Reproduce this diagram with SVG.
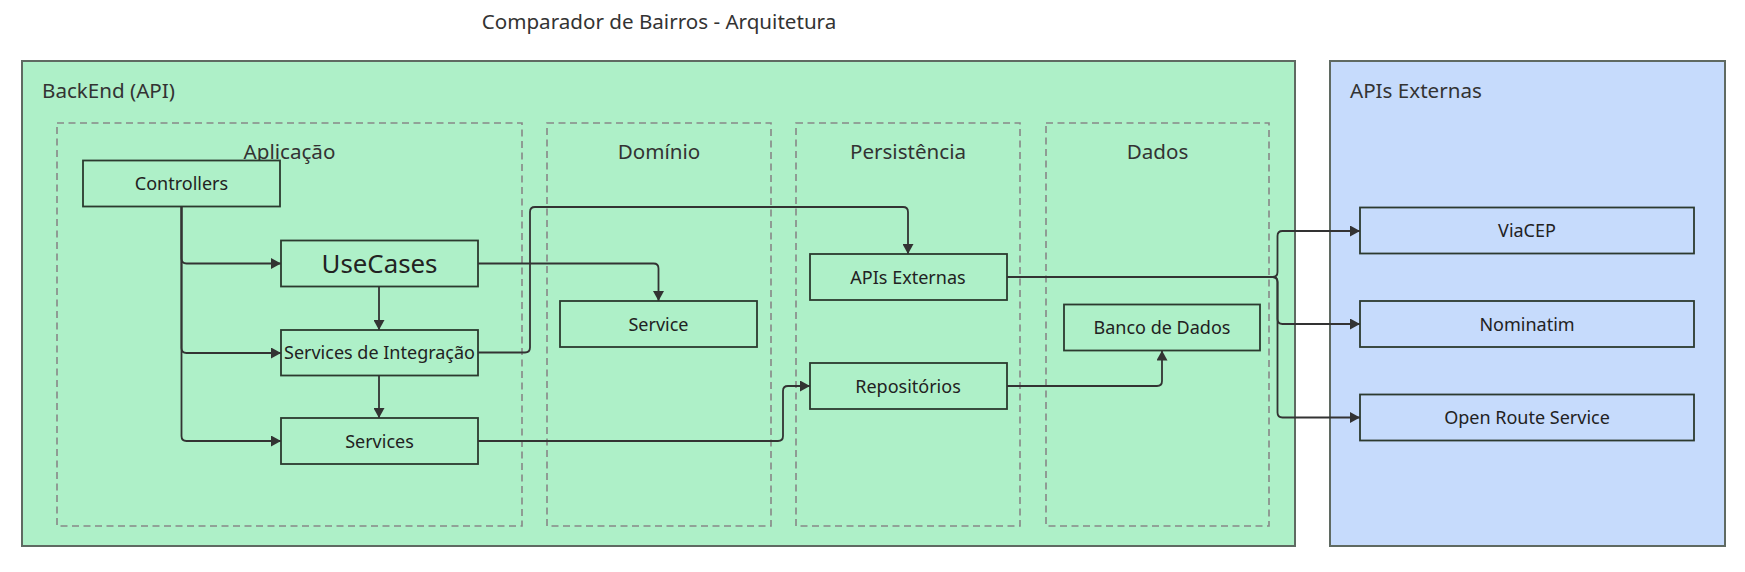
<svg xmlns="http://www.w3.org/2000/svg" width="1745" height="572" viewBox="0 0 1745 572">
<style>
text{font-family:"Noto Sans","Open Sans","Liberation Sans",sans-serif;}
.title{font-size:20.6px;fill:#333;text-anchor:middle;}
.grp{font-size:20.6px;fill:#333;}
.sub{font-size:20.6px;fill:#333;text-anchor:middle;}
.outer{stroke:#5f6a62;stroke-width:2;}
.green{fill:#aef0c8;}
.blue{fill:#c6dbfc;}
.dash{fill:none;stroke:#888;stroke-width:1.6;stroke-dasharray:7 4.5;}
.node rect{stroke:#2c3a2f;stroke-width:1.8;}
.node text{font-size:18px;fill:#222;text-anchor:middle;}
.gn rect{fill:#aef0c8;}
.bn rect{fill:#c6dbfc;}
.edges path{fill:none;stroke:#333;stroke-width:1.8;marker-end:url(#arrow);}
</style>
<defs>
<marker id="arrow" markerUnits="userSpaceOnUse" viewBox="0 0 10 11" refX="10" refY="5.5" markerWidth="10" markerHeight="11" orient="auto">
<path d="M0,0 L10,5.5 L0,11 z" fill="#333"/>
</marker>
</defs>
<rect width="1745" height="572" fill="#ffffff"/>
<text class="title" x="659" y="29">Comparador de Bairros - Arquitetura</text>

<g id="backend">
<rect class="outer green" x="22" y="61" width="1273" height="485"/>
<text class="grp" x="42" y="97.5">BackEnd (API)</text>
</g>
<g id="apis-externas-group">
<rect class="outer blue" x="1330" y="61" width="395" height="485"/>
<text class="grp" x="1350" y="98">APIs Externas</text>
</g>

<g id="aplicacao">
<rect class="dash" x="57" y="123" width="465" height="403"/>
<text class="sub" x="289.5" y="158.5">Aplicação</text>
</g>
<g id="dominio">
<rect class="dash" x="547" y="123" width="224" height="403"/>
<text class="sub" x="659" y="158.5">Domínio</text>
</g>
<g id="persistencia">
<rect class="dash" x="796" y="123" width="224" height="403"/>
<text class="sub" x="908" y="158.5">Persistência</text>
</g>
<g id="dados">
<rect class="dash" x="1046" y="123" width="223" height="403"/>
<text class="sub" x="1157.5" y="158.5">Dados</text>
</g>

<g id="controllers" class="node gn">
<rect x="83" y="160.5" width="197" height="46"/>
<text x="181.5" y="190">Controllers</text>
</g>
<g id="usecases" class="node gn">
<rect x="281" y="240.5" width="197" height="46"/>
<text x="379.5" y="272.5" style="font-size:25.8px">UseCases</text>
</g>
<g id="services-integracao" class="node gn">
<rect x="281" y="330" width="197" height="45.5"/>
<text x="379.5" y="359">Services de Integração</text>
</g>
<g id="services" class="node gn">
<rect x="281" y="418" width="197" height="46"/>
<text x="379.5" y="447.5">Services</text>
</g>
<g id="service" class="node gn">
<rect x="560" y="301" width="197" height="46"/>
<text x="658.5" y="330.5">Service</text>
</g>
<g id="apis-externas" class="node gn">
<rect x="810" y="254" width="197" height="46"/>
<text x="908" y="283.5">APIs Externas</text>
</g>
<g id="repositorios" class="node gn">
<rect x="810" y="363" width="197" height="46"/>
<text x="908" y="392.5">Repositórios</text>
</g>
<g id="banco" class="node gn">
<rect x="1064" y="304.5" width="196" height="46"/>
<text x="1162" y="334">Banco de Dados</text>
</g>
<g id="viacep" class="node bn">
<rect x="1360" y="207.5" width="334" height="46"/>
<text x="1527" y="237">ViaCEP</text>
</g>
<g id="nominatim" class="node bn">
<rect x="1360" y="301" width="334" height="46"/>
<text x="1527" y="330.5">Nominatim</text>
</g>
<g id="openroute" class="node bn">
<rect x="1360" y="394.5" width="334" height="46"/>
<text x="1527" y="424">Open Route Service</text>
</g>

<g id="connectors" class="edges">
<path d="M181.5,206.5 V258.5 Q181.5,263.5 186.5,263.5 H281"/>
<path d="M181.5,206.5 V348 Q181.5,353 186.5,353 H281"/>
<path d="M181.5,206.5 V436 Q181.5,441 186.5,441 H281"/>
<path d="M379,286.5 V330"/>
<path d="M379,375.5 V418"/>
<path d="M478,263.5 H653.5 Q658.5,263.5 658.5,268.5 V301"/>
<path d="M478,352.5 H525 Q530,352.5 530,347.5 V212 Q530,207 535,207 H903 Q908,207 908,212 V254"/>
<path d="M478,441 H778 Q783,441 783,436 V391 Q783,386 788,386 H810"/>
<path d="M1007,386 H1157 Q1162,386 1162,381 V350.5"/>
<path d="M1007,277 H1272.5 Q1277.5,277 1277.5,272 V236 Q1277.5,231 1282.5,231 H1360"/>
<path d="M1007,277 H1272.5 Q1277.5,277 1277.5,282 V319 Q1277.5,324 1282.5,324 H1360"/>
<path d="M1007,277 H1272.5 Q1277.5,277 1277.5,282 V412.5 Q1277.5,417.5 1282.5,417.5 H1360"/>
</g>
</svg>
